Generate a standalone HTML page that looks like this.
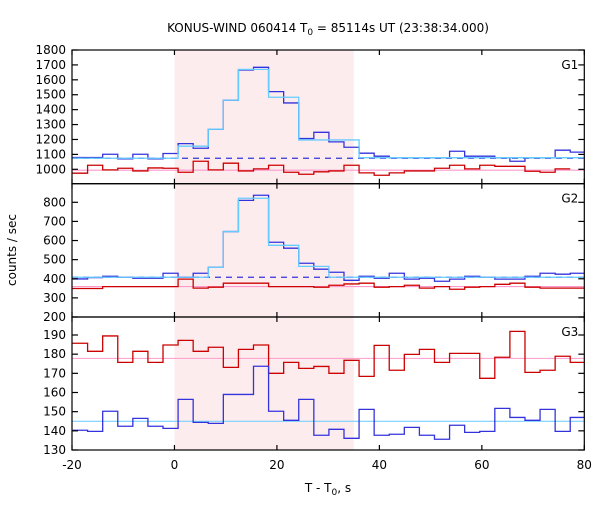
<!DOCTYPE html>
<html><head><meta charset="utf-8"><style>
body{margin:0;background:#fff;}
svg text{font-family:"DejaVu Sans","Liberation Sans",sans-serif;font-size:12px;fill:#000;}
</style></head><body>
<svg id="chart" width="600" height="500" xmlns="http://www.w3.org/2000/svg"></svg>
<script>
// ---- data ----
const binStart = -19.9;
const binWidth = 2.944;
const xTicks = [-20, 0, 20, 40, 60, 80];
const shadeRange = [0, 35];
const g1Blue = [1079,1079,1101,1070,1101,1070,1106,1172,1141,1269,1463,1666,1684,1521,1445,1206,1248,1184,1148,1108,1088,1077,1077,1077,1077,1121,1088,1088,1077,1054,1077,1077,1128,1115];
const g1Cyan = [1074,1074,1074,1074,1074,1074,1074,1155,1155,1269,1463,1670,1670,1483,1483,1197,1197,1197,1197,1078,1078,1078,1078,1078,1078,1078,1078,1078,1078,1078,1078,1078,1078,1078];
const g1Red = [974,1027,996,1007,989,1009,1007,980,1054,996,1041,989,1003,1027,980,967,983,989,1027,976,960,976,989,989,1007,1027,1003,1027,1020,1020,987,980,1003,null];
const g1BlueBg = 1074;
const g1RedBg = 994;
const g1Ticks = [1000,1100,1200,1300,1400,1500,1600,1700,1800];
const g2Blue = [399,406,413,408,403,403,429,408,429,460,647,810,837,591,560,481,450,434,392,413,403,429,398,403,387,398,413,408,398,398,413,429,424,429];
const g2Cyan = [408,408,408,408,408,408,408,408,408,460,647,821,821,575,575,465,465,408,408,408,408,408,408,408,408,408,408,408,408,408,408,408,408,408];
const g2Red = [349,349,359,359,359,359,359,398,351,356,377,377,377,359,359,359,356,366,373,377,356,359,366,351,359,345,356,359,371,377,356,351,351,351];
const g2BlueBg = 408;
const g2RedBg = 359;
const g2Ticks = [200,300,400,500,600,700,800];
const g3Red = [185.7,181.5,189.5,175.7,181.5,175.7,184.8,187.2,181.5,183.6,173.1,182.5,184.8,170.0,175.7,172.6,173.6,170.0,176.8,168.4,184.6,171.6,179.9,182.5,175.7,180.4,180.4,167.4,178.4,191.9,170.5,171.6,178.9,175.7];
const g3Blue = [140.3,139.7,150.2,142.4,146.5,142.4,141.3,156.4,144.4,143.9,159.0,159.0,173.7,150.2,145.5,156.4,137.7,140.8,136.1,151.2,137.7,138.2,141.8,137.7,135.6,142.9,139.2,139.7,151.7,147.0,145.5,151.2,139.7,147.0];
const g3BlueBg = 145.0;
const g3RedBg = 177.8;
const g3Ticks = [130,140,150,160,170,180,190];

// ---- layout ----
const NS = "http://www.w3.org/2000/svg";
const svg = document.getElementById('chart');
const L = 72, R = 584.3;
const xs = t => L + (t - (-20)) * (R - L) / 100;
function lin(d0, d1, r0, r1){ return v => r0 + (v - d0) * (r1 - r0) / (d1 - d0); }
const panels = [
  {name:'g1', top:50, bot:183.7, y:lin(1000,1800,169.3,50), ticks:g1Ticks, blue:g1Blue, cyan:g1Cyan, red:g1Red, bBg:g1BlueBg, rBg:g1RedBg, label:'G1', dashed:true},
  {name:'g2', top:183.7, bot:317, y:lin(200,800,317,202.3), ticks:g2Ticks, blue:g2Blue, cyan:g2Cyan, red:g2Red, bBg:g2BlueBg, rBg:g2RedBg, label:'G2', dashed:true},
  {name:'g3', top:317, bot:450, y:lin(130,190,450,335), ticks:g3Ticks, blue:g3Blue, cyan:null, red:g3Red, bBg:g3BlueBg, rBg:g3RedBg, label:'G3', dashed:false}
];
function mk(tag, attrs, parent){
  const e = document.createElementNS(NS, tag);
  for (const k in attrs) e.setAttribute(k, attrs[k]);
  (parent || svg).appendChild(e);
  return e;
}
const defs = mk('defs', {});
const shade = mk('rect', {x:xs(shadeRange[0]), y:50, width:xs(shadeRange[1])-xs(shadeRange[0]), height:400, fill:'#fdeced'});



function stepPath(arr, y){
  let d = '', prev = null;
  arr.forEach((v, i) => {
    if (v === null || v === undefined) { prev = null; return; }
    const x0 = xs(binStart + i * binWidth), x1 = xs(binStart + (i + 1) * binWidth), yy = y(v);
    if (prev === null) d += 'M' + x0 + ' ' + yy; else d += 'L' + x0 + ' ' + yy;
    d += 'L' + x1 + ' ' + yy;
    prev = v;
  });
  return d;
}

panels.forEach(p => {
  const cp = mk('clipPath', {id:'clip-' + p.name}, defs);
  mk('rect', {x:L, y:p.top, width:R - L, height:p.bot - p.top}, cp);
  const g = mk('g', {'clip-path':'url(#clip-' + p.name + ')'});
  
  
  const pl = mk('line', {x1:L, x2:R, y1:p.y(p.rBg), y2:p.y(p.rBg), stroke:'#ff99cc', 'stroke-width':1.1}, g);
  
  
  if (!p.cyan) {
    const cl = mk('line', {x1:L, x2:R, y1:p.y(p.bBg), y2:p.y(p.bBg), stroke:'#66ccff', 'stroke-width':1.1}, g);
    
    
  }
  const rp = mk('path', {d:stepPath(p.red, p.y), fill:'none', stroke:'#cc0000', 'stroke-width':1.3}, g);
  
  
  if (p.dashed) {
    const dl = mk('line', {x1:L, x2:R, y1:p.y(p.bBg), y2:p.y(p.bBg), stroke:'#3333dd', 'stroke-width':1.2, 'stroke-dasharray':'6,5'}, g);
    
    
  }
  const bp = mk('path', {d:stepPath(p.blue, p.y), fill:'none', stroke:'#3333dd', 'stroke-width':1.3}, g);
  
  
  if (p.cyan) {
    const cp2 = mk('path', {d:stepPath(p.cyan, p.y), fill:'none', stroke:'#66ccff', 'stroke-width':1.3}, g);
    
    
  }
  const fr = mk('rect', {x:L, y:p.top, width:R - L, height:p.bot - p.top, fill:'none', stroke:'#000', 'stroke-width':1.2});
  
  
  p.ticks.forEach(v => {
    const yy = p.y(v);
    mk('line', {x1:L, x2:L + 6, y1:yy, y2:yy, stroke:'#000', 'stroke-width':1.2});
    mk('line', {x1:R - 6, x2:R, y1:yy, y2:yy, stroke:'#000', 'stroke-width':1.2});
    const t = mk('text', {x:L - 6, y:yy + 4, 'text-anchor':'end'});
    t.textContent = v;
    
    
  });
  xTicks.forEach(v => {
    const xx = xs(v);
    mk('line', {x1:xx, x2:xx, y1:p.top, y2:p.top + 5, stroke:'#000', 'stroke-width':1.2});
    mk('line', {x1:xx, x2:xx, y1:p.bot - 5, y2:p.bot, stroke:'#000', 'stroke-width':1.2});
  });
  const lab = mk('text', {x:R - 6, y:p.top + 19, 'text-anchor':'end'});
  lab.textContent = p.label;
  
  
});

xTicks.forEach(v => {
  const t = mk('text', {x:xs(v), y:469, 'text-anchor':'middle'});
  t.textContent = v;
  
  
});
</script>
<div style="position:absolute;left:0;top:0;width:600px;height:500px;pointer-events:none;">
<svg width="600" height="500" xmlns="http://www.w3.org/2000/svg">
<text x="328" y="32" text-anchor="middle">KONUS-WIND 060414 T<tspan font-size="9" dy="3">0</tspan><tspan dy="-3"> = 85114s UT (23:38:34.000)</tspan></text>
<text x="0" y="0" text-anchor="middle" transform="translate(16,250) rotate(-90)">counts / sec</text>
<text x="328" y="492" text-anchor="middle">T - T<tspan font-size="9" dy="3">0</tspan><tspan dy="-3">, s</tspan></text>
</svg></div>
</body></html>
